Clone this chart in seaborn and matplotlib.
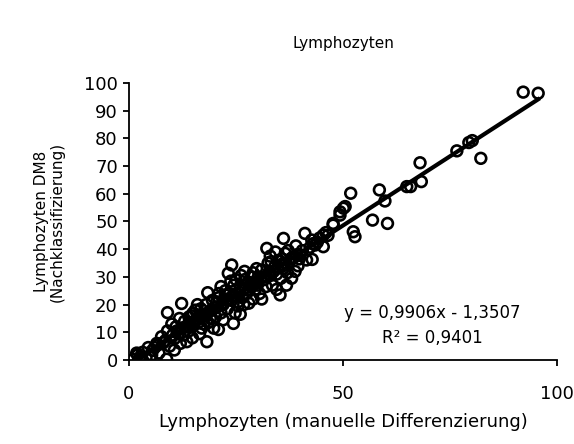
import pandas as pd
import seaborn as sb
import matplotlib
matplotlib.use("Agg")
import matplotlib.pyplot as plt

# Lymphozyten: manuelle Differenzierung (x) vs. DM8 Nachklassifizierung (y)
manual = [
    1.0, 2.6, 1.8, 3.2, 4.0, 5.3, 6.0, 7.0, 8.8, 8.0, 6.5, 9.5, 10.6, 7.6, 10.7, 11.5, 9.0, 12.3,
    11.0, 12.0, 4.5, 3.0, 2.0, 5.5, 9.0, 10.0, 12.5, 11.8,
    13.5, 13.0, 14.0, 14.5, 15.0, 15.5, 16.0, 16.5, 17.0, 17.5, 18.0, 18.4, 18.2, 18.8, 19.0, 19.5,
    15.0, 16.0, 17.0, 13.8, 19.8, 14.8, 12.8, 16.8, 18.5,
    20.9, 20.5, 21.0, 21.5, 22.0, 22.5, 23.0, 23.2, 24.0, 24.4, 24.0, 24.5, 25.0, 25.5, 26.0, 26.5,
    27.0, 27.5, 28.0, 28.5, 29.0, 29.5, 30.0, 22.0, 23.5, 25.0, 26.0, 27.0, 28.0, 29.0, 21.5, 24.8,
    26.8, 29.8, 20.2, 22.8, 25.8, 27.8, 23.8, 28.8, 21.0, 26.2,
    30.5, 31.0, 31.5, 32.2, 32.0, 32.5, 33.0, 33.5, 34.0, 34.5, 35.3, 35.0, 35.5, 36.1, 36.0, 36.5,
    37.0, 37.5, 38.0, 38.5, 39.0, 39.5, 40.0, 33.0, 34.5, 31.0, 36.8, 38.8, 30.2, 32.8, 35.8, 37.2,
    39.8, 34.2,
    41.1, 42.3, 42.7, 41.5, 42.8, 43.5, 44.5, 45.4, 46.0, 45.4, 47.7, 47.7, 49.3, 49.3, 50.1, 50.5,
    51.8, 52.4, 52.8, 56.9, 58.5, 59.8, 60.4, 64.9, 65.8, 68.0, 68.3, 76.6, 79.4, 80.2, 82.2, 92.1,
    95.6,
    # extra points in the dense band
    6.8, 8.5, 10.2, 11.2, 13.2, 14.2, 15.8, 17.8, 19.2, 20.0, 21.8, 23.0, 24.2, 25.2, 26.5, 27.2,
    28.2, 29.2, 30.8, 31.8, 32.6, 33.8, 34.8, 35.6, 36.4, 37.8, 38.2, 39.2, 40.5, 43.0, 44.0, 46.5,
    14.0, 16.2, 18.0, 20.5, 22.5, 25.5, 28.5, 30.0, 33.2, 36.0,
]
dm8 = [
    0.2, 1.1, 2.5, 2.8, 0.8, 1.8, 4.5, 2.5, 0.3, 6.2, 6.0, 5.0, 3.6, 8.4, 7.8, 9.5, 17.1, 20.4,
    12.0, 6.0, 4.5, 0.5, 1.8, 3.5, 10.5, 13.0, 11.5, 15.0,
    6.6, 14.0, 10.5, 16.0, 12.5, 18.0, 14.5, 9.5, 16.5, 13.0, 20.0, 24.3, 6.6, 17.5, 15.0, 21.5,
    17.0, 20.0, 11.5, 12.0, 11.5, 8.0, 9.0, 18.5, 13.5,
    11.0, 19.0, 22.5, 17.0, 20.0, 25.0, 18.5, 31.3, 34.3, 13.2, 21.5, 27.0, 23.0, 19.5, 26.0, 22.5,
    29.0, 24.0, 20.5, 27.5, 31.5, 25.5, 28.5, 14.5, 24.0, 29.0, 16.5, 32.0, 25.5, 22.0, 26.5, 17.0,
    20.0, 33.0, 15.5, 21.5, 24.5, 28.0, 28.5, 30.0, 24.0, 30.5,
    24.0, 32.5, 29.0, 40.3, 26.5, 35.0, 30.5, 27.0, 33.5, 31.0, 23.5, 36.0, 29.5, 43.9, 33.0, 38.5,
    31.5, 35.5, 29.5, 37.0, 41.2, 34.0, 38.0, 37.5, 25.5, 22.0, 27.0, 32.0, 30.0, 32.0, 36.5, 39.5,
    36.5, 39.0,
    45.7, 40.7, 43.3, 36.1, 36.3, 41.5, 44.0, 40.9, 46.0, 45.1, 48.7, 49.3, 53.5, 52.3, 54.8, 55.4,
    60.2, 46.3, 44.5, 50.5, 61.4, 57.4, 49.3, 62.6, 62.6, 71.2, 64.4, 75.5, 78.5, 79.2, 72.8, 96.7,
    96.3,
    5.5, 7.0, 9.0, 10.5, 12.0, 13.5, 15.0, 16.5, 18.0, 19.0, 20.5, 22.0, 23.0, 24.0, 25.0, 26.0,
    27.0, 28.0, 29.5, 30.0, 31.0, 32.0, 33.5, 34.5, 35.0, 36.5, 37.0, 38.0, 39.5, 42.0, 42.5, 45.0,
    15.5, 13.5, 16.0, 21.0, 23.5, 21.0, 26.5, 27.0, 35.5, 34.0,
]

equation = "y = 0,9906x - 1,3507"
r_squared = "R² = 0,9401"

df = pd.DataFrame({"manual": manual, "dm8": dm8})

fig = plt.figure(figsize=(5.74, 4.44), dpi=100)
ax = fig.add_axes([0.2247, 0.1892, 0.7457, 0.6239])

sb.regplot(
    data=df, x="manual", y="dm8", ax=ax, ci=None,
    scatter_kws=dict(s=60, facecolors="none", edgecolors="black", linewidths=1.9, alpha=1),
    line_kws=dict(color="black", linewidth=3),
)

ax.set_xlim(0, 100)
ax.set_ylim(0, 100)
ax.set_xticks([0, 50, 100])
ax.set_yticks(range(0, 101, 10))
for s in ["top", "right"]:
    ax.spines[s].set_visible(False)
for s in ["left", "bottom"]:
    ax.spines[s].set_linewidth(1.3)
ax.tick_params(axis="y", direction="out", length=4, width=1.3, pad=4, labelsize=13, colors="black")
ax.tick_params(axis="x", direction="out", length=4, width=1.3, pad=14, labelsize=13, colors="black")

ax.set_xlabel("Lymphozyten (manuelle Differenzierung)", fontsize=13, labelpad=7)
ax.set_ylabel("Lymphozyten DM8\n(Nachklassifizierung)", fontsize=11, labelpad=14, linespacing=1.05)
ax.set_title("Lymphozyten", fontsize=11, pad=25)

ax.text(70.8, 17.0, equation, ha="center", va="center", fontsize=12)
ax.text(70.8, 7.9, r_squared, ha="center", va="center", fontsize=12)

fig.savefig("out.png", dpi=100)
